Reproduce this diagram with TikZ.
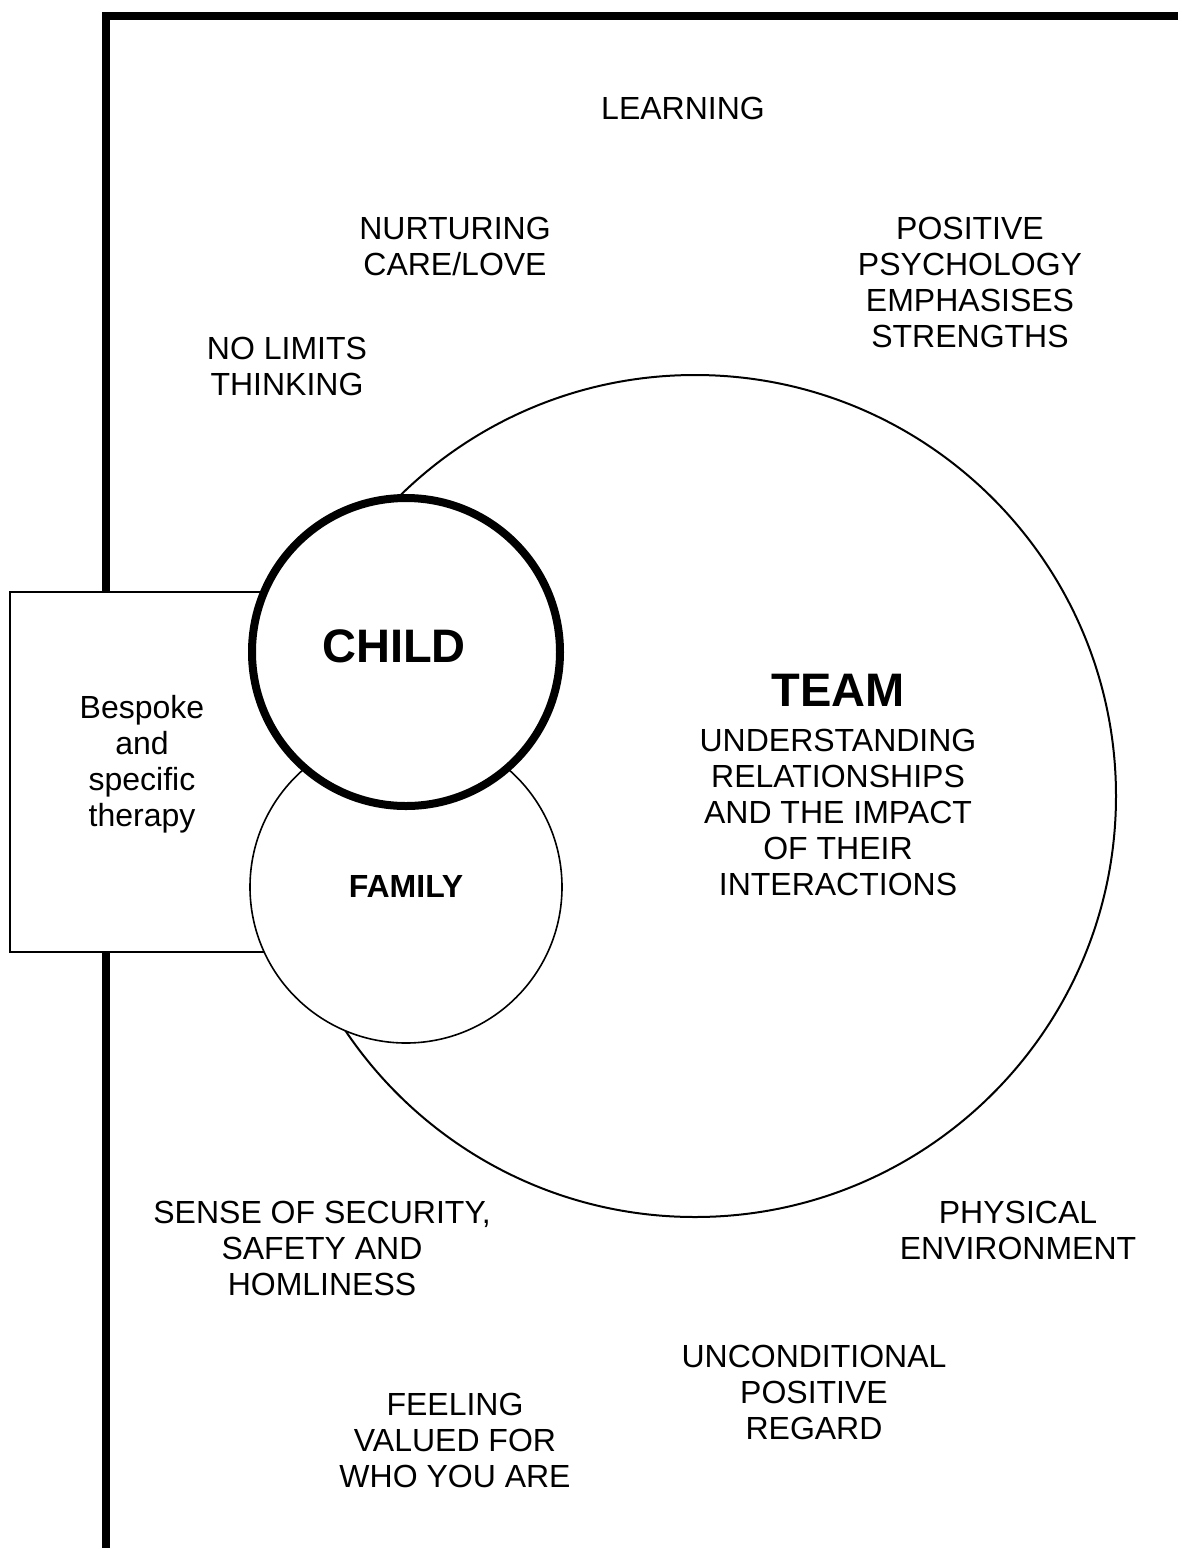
\documentclass[tikz,border=0pt]{standalone}
\usepackage{fontspec}
\setmainfont{Liberation Sans}
\begin{document}
\begin{tikzpicture}[x=0.5pt,y=-0.5pt,
  lbl/.style={align=center, font=\fontsize{16}{18}\selectfont, inner sep=0pt},
  big/.style={align=center, font=\fontsize{23.5}{27}\selectfont\bfseries, inner sep=0pt},
  ring/.style={circle, draw, fill=white, inner sep=0pt, outer sep=0pt}]
\useasboundingbox (0,0) rectangle (1178,1548);
\clip (0,0) rectangle (1178,1548);
% frame
\coordinate (fb) at (106,1570);
\coordinate (fc) at (106,16);
\coordinate (fr) at (1200,16);
\draw[line width=4pt] (fb) -- (fc) -- (fr);
% team circle
\node[ring, line width=1pt, minimum size=421pt] (team) at (695,796) {};
% therapy box
\node[fill=white, inner sep=0pt, outer sep=0pt, minimum width=145pt, minimum height=180pt] (box) at (155,772) {};
\draw[line width=0.7pt] (box.north east) -- (box.north west) -- (box.south west) -- (box.south east);
% family and child
\node[ring, line width=0.8pt, minimum size=156pt] (family) at (406,887) {};
\node[ring, line width=4pt, minimum size=154pt] (child) at (406,652) {};
% texts
\node[lbl] (learn) at (683,108) {LEARNING};
\node[lbl] (nurt) at (455,246) {NURTURING\\CARE/LOVE};
\node[lbl] (pos) at (970,282) {POSITIVE\\PSYCHOLOGY\\EMPHASISES\\STRENGTHS};
\node[lbl] (nolim) at (287,366) {NO LIMITS\\THINKING};
\node[big] (childt) at (394,646) {CHILD};
\node[big] (teamt) at (838,690) {TEAM};
\node[lbl] (under) at (838,812) {UNDERSTANDING\\RELATIONSHIPS\\AND THE IMPACT\\OF THEIR\\INTERACTIONS};
\node[lbl] (besp) at (142,764) {Bespoke\\and\\specific\\therapy};
\node[lbl, font=\fontsize{16}{18}\selectfont\bfseries] (famt) at (406,886) {FAMILY};
\node[lbl] (sense) at (322,1248) {SENSE OF SECURITY,\\SAFETY AND\\HOMLINESS};
\node[lbl] (phys) at (1018,1230) {PHYSICAL\\ENVIRONMENT};
\node[lbl] (uncond) at (814,1392) {UNCONDITIONAL\\POSITIVE\\REGARD};
\node[lbl] (feel) at (455,1440) {FEELING\\VALUED FOR\\WHO YOU ARE};
\end{tikzpicture}
\end{document}
